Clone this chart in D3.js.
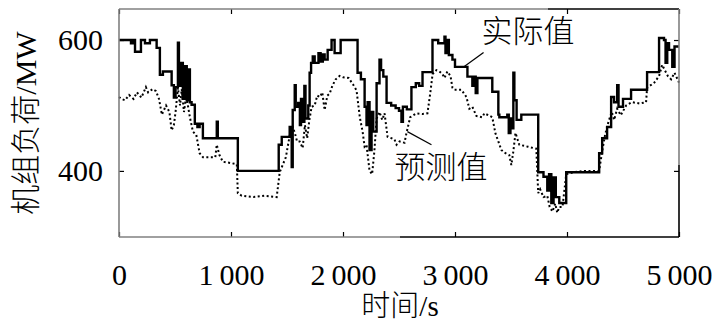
<!DOCTYPE html>
<html>
<head>
<meta charset="utf-8">
<script src="https://cdn.jsdelivr.net/npm/d3@7"></script>
<style>
  body { margin: 0; background: #fff; }
  svg { display: block; }
</style>
</head>
<body>
<script>
// actual load (step line), [time s, MW]
var actual = [
  [0,600],[107,595],[125,600],[143,582],[196,600],[232,595],[276,600],[336,588],[365,547],[392,552],
  [470,531],[490,512],[505,528],[526,596],[535,530],[550,565],[570,510],[590,560],[605,508],[620,555],
  [633,505],[648,501],[677,472],[700,467],[720,472],[749,450],[873,475],[882,450],[1061,400],[1426,440],
  [1453,452],[1524,467],[1542,406],[1551,493],[1569,531],[1578,498],[1600,504],[1615,470],[1625,510],
  [1640,475],[1655,530],[1665,480],[1690,500],[1702,550],[1715,565],[1730,575],[1747,565],[1781,580],
  [1800,567],[1820,578],[1836,570],[1863,585],[1898,600],[1925,580],[1979,600],[2130,550],[2160,540],
  [2193,498],[2210,470],[2220,505],[2237,432],[2255,490],[2270,460],[2300,534],[2326,570],[2340,554],
  [2360,544],[2389,504],[2430,500],[2470,496],[2500,492],[2522,475],[2535,498],[2570,494],[2611,528],
  [2650,534],[2680,530],[2710,551],[2799,600],[2850,595],[2906,605],[2915,580],[2930,600],[2945,577],
  [2977,570],[3000,559],[3111,544],[3155,530],[3170,544],[3185,519],[3200,542],[3333,521],[3387,486],
  [3396,482],[3467,486],[3480,458],[3495,480],[3510,465],[3521,550],[3530,508],[3550,478],[3592,486],
  [3743,398],[3790,391],[3824,370],[3840,395],[3860,351],[3880,390],[3900,360],[3931,351],[3993,398],
  [4287,427],[4314,450],[4358,467],[4394,513],[4420,505],[4448,531],[4460,498],[4500,510],[4572,524],
  [4715,551],[4822,603],[4866,600],[4880,565],[4895,595],[4911,585],[4940,559],[4960,590],[5000,590]
];

// predicted load (dotted line), [time s, MW]
var predicted = [
  [0,513],[20,510],[53,508],[90,516],[130,510],[160,520],[200,512],[240,528],[260,520],[300,525],
  [330,522],[357,510],[383,486],[420,500],[450,490],[470,462],[490,470],[505,490],[526,527],[545,500],
  [560,525],[580,490],[600,515],[633,482],[660,460],[690,455],[720,427],[750,421],[860,421],[873,440],
  [895,425],[927,414],[1000,412],[1052,410],[1061,366],[1096,362],[1200,360],[1300,362],[1408,360],
  [1435,398],[1490,421],[1530,460],[1551,467],[1570,458],[1590,445],[1613,445],[1640,435],[1660,470],
  [1680,450],[1700,478],[1720,498],[1747,500],[1770,515],[1795,513],[1815,520],[1836,493],[1860,515],
  [1881,518],[1905,530],[1935,540],[1970,545],[2000,543],[2050,542],[2090,532],[2121,523],[2150,482],
  [2175,460],[2193,437],[2210,440],[2237,400],[2260,395],[2280,430],[2300,480],[2326,490],[2350,478],
  [2371,488],[2398,452],[2433,450],[2460,448],[2478,440],[2505,445],[2549,443],[2567,458],[2600,482],
  [2656,488],[2710,487],[2754,488],[2780,520],[2800,548],[2834,554],[2861,552],[2888,548],[2906,542],
  [2932,552],[2960,545],[2977,527],[2995,524],[3057,524],[3102,513],[3128,495],[3155,498],[3191,484],
  [3244,482],[3262,488],[3300,485],[3333,482],[3360,458],[3387,445],[3414,432],[3440,428],[3485,424],
  [3503,409],[3521,430],[3540,458],[3574,440],[3650,437],[3726,434],[3743,366],[3760,372],[3790,360],
  [3824,362],[3845,345],[3870,338],[3895,350],[3913,336],[3931,345],[3960,345],[3993,395],[4064,398],
  [4153,400],[4287,400],[4314,430],[4340,455],[4370,475],[4400,490],[4421,478],[4448,495],[4480,485],
  [4528,500],[4581,505],[4650,503],[4706,505],[4715,527],[4780,535],[4822,545],[4850,562],[4870,555],
  [4900,545],[4930,540],[4960,550],[5000,535]
];

var xTicks = [0, 1000, 2000, 3000, 4000, 5000];
var yTicks = [400, 600];

var width = 721, height = 335;
var padL = 119, padR = 679, padT = 9, padB = 237;

var svg = d3.select("body").append("svg")
    .attr("width", width)
    .attr("height", height);

var x = d3.scaleLinear().domain([0, 5000]).range([padL, padR]);
var y = d3.scaleLinear().domain([299, 647.4]).range([padB, padT]);

var fmt = function (d) { return d === 0 ? "0" : d3.format(",")(d).replace(",", "\u2009"); };
var serif = "'Liberation Serif', 'Times New Roman', serif";

// lines
var stepLine = d3.line()
    .x(d => x(d[0]))
    .y(d => y(d[1]))
    .curve(d3.curveStepAfter);

var dotLine = d3.line()
    .x(d => x(d[0]))
    .y(d => y(d[1]));

svg.append("path")
    .datum(predicted)
    .attr("fill", "none")
    .attr("stroke", "#000")
    .attr("stroke-width", 2)
    .attr("stroke-dasharray", "2,2.5")
    .attr("d", dotLine);

svg.append("path")
    .datum(actual)
    .attr("fill", "none")
    .attr("stroke", "#000")
    .attr("stroke-width", 2.4)
    .attr("d", stepLine);

// axes with inward ticks
var bottomAxis = svg.append("g")
    .attr("transform", "translate(0," + padB + ")")
    .call(d3.axisBottom(x).tickValues(xTicks).tickFormat(fmt).tickSizeInner(-5).tickSizeOuter(0).tickPadding(27));

var topAxis = svg.append("g")
    .attr("transform", "translate(0," + padT + ")")
    .call(d3.axisTop(x).tickValues(xTicks).tickFormat("").tickSizeInner(-5).tickSizeOuter(0));

var leftAxis = svg.append("g")
    .attr("transform", "translate(" + padL + ",0)")
    .call(d3.axisLeft(y).tickValues(yTicks).tickSizeInner(-5).tickSizeOuter(0).tickPadding(16));

var rightAxis = svg.append("g")
    .attr("transform", "translate(" + padR + ",0)")
    .call(d3.axisRight(y).tickValues(yTicks).tickFormat("").tickSizeInner(-5).tickSizeOuter(0));

[bottomAxis, topAxis, leftAxis, rightAxis].forEach(function (g) {
    g.select(".domain").remove();
    g.selectAll("line").attr("stroke", "#000").attr("stroke-width", 1.2);
    g.selectAll("text")
        .attr("fill", "#000")
        .style("font-family", serif)
        .style("font-size", "30px");
});

// frame (part of it looks greyish in the scan)
var frame = [
    [padL, padT, padL, padB, "#808080"],
    [padL, padB, 400, padB, "#808080"],
    [400, padB, padR, padB, "#000"],
    [padL, padT, 548, padT, "#808080"],
    [548, padT, padR, padT, "#000"],
    [padR, padT, padR, 165, "#808080"],
    [padR, 165, padR, padB, "#000"]
];
svg.append("g").selectAll("line")
    .data(frame)
    .enter().append("line")
    .attr("x1", d => d[0]).attr("y1", d => d[1])
    .attr("x2", d => d[2]).attr("y2", d => d[3])
    .attr("stroke", d => d[4])
    .attr("stroke-width", 1.6);

// axis titles
svg.append("text")
    .attr("x", 400)
    .attr("y", 316)
    .attr("text-anchor", "middle")
    .style("font-family", serif)
    .style("font-size", "29px")
    .html("<tspan style=\"font-family:'Noto Sans CJK SC';font-weight:300\">时间</tspan>/s");

svg.append("text")
    .attr("transform", "translate(36,123) rotate(-90)")
    .attr("text-anchor", "middle")
    .style("font-family", serif)
    .style("font-size", "30px")
    .html("<tspan style=\"font-family:'Noto Sans CJK SC';font-weight:300\">机组负荷</tspan>/MW");

// series labels with leader lines
svg.append("text")
    .attr("x", 528)
    .attr("y", 42)
    .attr("text-anchor", "middle")
    .style("font-family", "'Noto Sans CJK SC'")
    .style("font-weight", 300)
    .style("font-size", "31px")
    .text("实际值");

svg.append("line")
    .attr("x1", x(3255)).attr("y1", y(581))
    .attr("x2", x(3080)).attr("y2", y(559))
    .attr("stroke", "#000").attr("stroke-width", 1.2);

svg.append("text")
    .attr("x", 441)
    .attr("y", 178)
    .attr("text-anchor", "middle")
    .style("font-family", "'Noto Sans CJK SC'")
    .style("font-weight", 300)
    .style("font-size", "31px")
    .text("预测值");

svg.append("line")
    .attr("x1", x(2790)).attr("y1", y(440))
    .attr("x2", x(2575)).attr("y2", y(460))
    .attr("stroke", "#000").attr("stroke-width", 1.2);
</script>
</body>
</html>
